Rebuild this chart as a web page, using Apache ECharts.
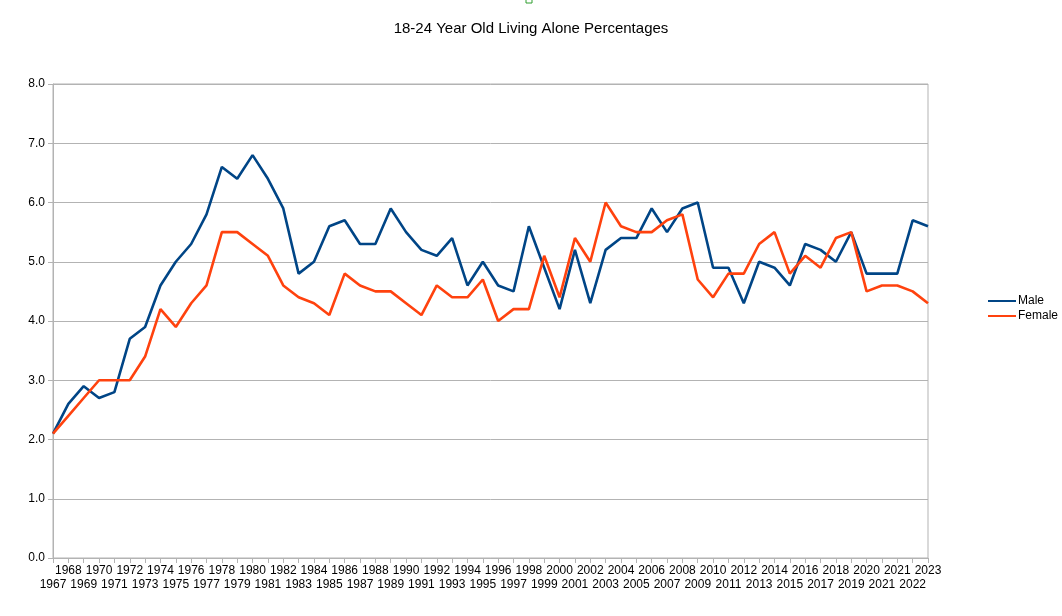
<!DOCTYPE html>
<html>
<head>
<meta charset="utf-8">
<script src="https://cdn.jsdelivr.net/npm/echarts@6/dist/echarts.min.js"></script>
<style>html,body{margin:0;padding:0;background:#fff}#c{width:1062px;height:616px}</style>
</head>
<body>
<div id="c"></div>
<script>
var years = ['1967','1968','1969','1970','1971','1972','1973','1974','1975','1976','1977','1978','1979','1980','1981','1982','1983','1984','1985','1986','1987','1988','1989','1990','1991','1992','1993','1994','1995','1996','1997','1998','1999','2000','2001','2002','2003','2004','2005','2006','2007','2008','2009','2010','2011','2012','2013','2014','2015','2016','2017','2018','2019','2020','2021','2021','2022','2023'];
var male = [2.1,2.6,2.9,2.7,2.8,3.7,3.9,4.6,5.0,5.3,5.8,6.6,6.4,6.8,6.4,5.9,4.8,5.0,5.6,5.7,5.3,5.3,5.9,5.5,5.2,5.1,5.4,4.6,5.0,4.6,4.5,5.6,4.9,4.2,5.2,4.3,5.2,5.4,5.4,5.9,5.5,5.9,6.0,4.9,4.9,4.3,5.0,4.9,4.6,5.3,5.2,5.0,5.5,4.8,4.8,4.8,5.7,5.6];
var female = [2.1,2.4,2.7,3.0,3.0,3.0,3.4,4.2,3.9,4.3,4.6,5.5,5.5,5.3,5.1,4.6,4.4,4.3,4.1,4.8,4.6,4.5,4.5,4.3,4.1,4.6,4.4,4.4,4.7,4.0,4.2,4.2,5.1,4.4,5.4,5.0,6.0,5.6,5.5,5.5,5.7,5.8,4.7,4.4,4.8,4.8,5.3,5.5,4.8,5.1,4.9,5.4,5.5,4.5,4.6,4.6,4.5,4.3];
var yTicks = [0,1,2,3,4,5,6,7,8];

var chart = echarts.init(document.getElementById('c'), null, {renderer:'canvas'});
var font = 'Liberation Sans, Arial, sans-serif';
chart.setOption({
  animation:false,
  backgroundColor:'#fff',
  title:{text:'18-24 Year Old Living Alone Percentages', left:526, textAlign:'center', top:16,
    textStyle:{fontSize:15, fontWeight:'normal', color:'#000', fontFamily:font}},
  graphic:[{type:'rect', shape:{x:526,y:-3,width:6,height:6}, style:{fill:'#fff', stroke:'#2e9e2e', lineWidth:1}}],
  legend:{orient:'vertical', left:983, top:290, itemWidth:28, itemHeight:2, itemGap:3, icon:'rect',
    textStyle:{fontSize:12, color:'#000', fontFamily:font, padding:[0,0,0,-3]},
    data:['Male','Female']},
  grid:{left:53, right:134, top:84, bottom:58, show:true, borderColor:'#b3b3b3', borderWidth:1},
  xAxis:{type:'category', data:years, boundaryGap:false,
    axisLine:{lineStyle:{color:'#b3b3b3'}},
    axisTick:{interval:0, length:5, lineStyle:{color:'#b3b3b3'}},
    splitLine:{show:false},
    axisLabel:{interval:0, margin:6, fontSize:12, color:'#000', fontFamily:font, lineHeight:14,
      formatter:function(v,i){ return (i%2===0) ? '\n'+v : v; }}},
  yAxis:{type:'value', min:0, max:8, interval:1,
    axisLine:{show:true, lineStyle:{color:'#b3b3b3'}},
    axisTick:{show:true, length:5, lineStyle:{color:'#b3b3b3'}},
    splitLine:{lineStyle:{color:'#b3b3b3'}},
    axisLabel:{fontSize:12, color:'#000', fontFamily:font, margin:8,
      formatter:function(v){return v.toFixed(1);}}},
  series:[
    {name:'Male', type:'line', data:male, symbol:'none', color:'#004586', lineStyle:{width:2.6, color:'#004586'}},
    {name:'Female', type:'line', data:female, symbol:'none', color:'#ff420e', lineStyle:{width:2.6, color:'#ff420e'}}
  ]
});
</script>
</body>
</html>
